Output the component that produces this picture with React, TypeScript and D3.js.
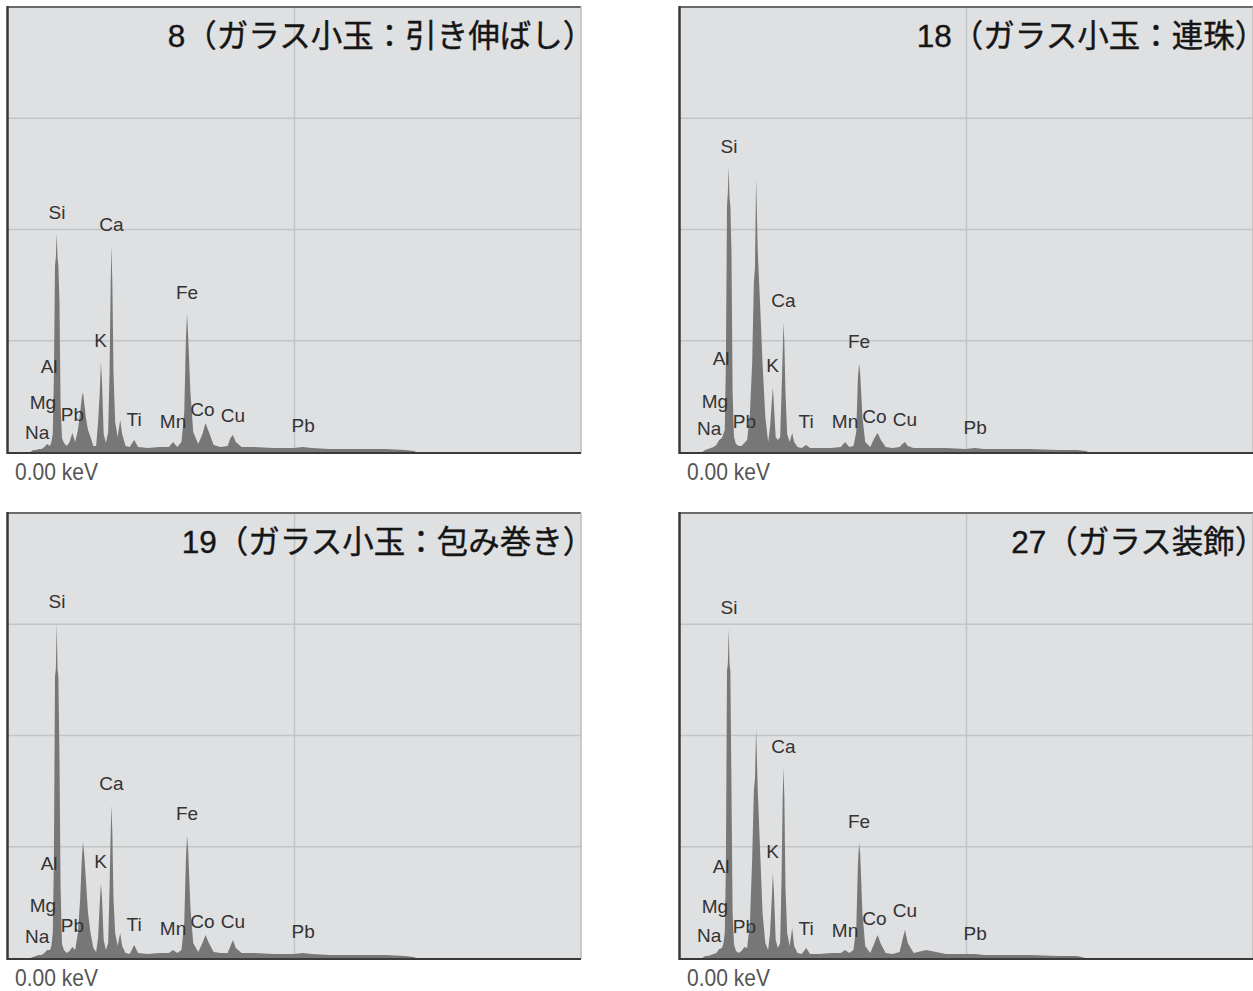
import React from 'react';
import * as d3 from 'd3';

// energy grid (keV) shared by all four spectra
const energies = [
  0, 0.8, 0.9, 1.0, 1.1, 1.2, 1.3, 1.4, 1.5, 1.55, 1.6, 1.64, 1.68, 1.71, 1.74, 1.77, 1.8, 1.84, 1.88, 1.93,
  2.0, 2.1, 2.2, 2.3, 2.4, 2.5, 2.58, 2.64, 2.68, 2.72, 2.78, 2.86, 2.95, 3.05, 3.15, 3.22, 3.28, 3.32, 3.36, 3.42,
  3.5, 3.58, 3.63, 3.67, 3.7, 3.73, 3.77, 3.83, 3.92, 4.01, 4.08, 4.2, 4.35, 4.51, 4.65, 5.0, 5.4, 5.75, 5.9, 6.05,
  6.2, 6.3, 6.36, 6.4, 6.44, 6.52, 6.62, 6.8, 6.95, 7.06, 7.18, 7.35, 7.6, 7.85, 7.95, 8.04, 8.14, 8.35, 8.8, 9.5,
  10.2, 10.55, 10.85, 11.5, 12.5, 13.5, 14.2, 14.5, 14.6, 20.48,
];

// counts per channel
const spec8 = [
  0, 0, 2, 2, 3, 3, 5, 8, 6, 10, 18, 75, 187, 195, 219, 195, 187, 150, 45, 14,
  9, 6, 10, 19, 10, 22, 40, 55, 60, 50, 35, 22, 15, 6, 6, 30, 60, 90, 70, 18,
  9, 20, 80, 169, 207, 169, 80, 30, 15, 32, 18, 6, 5, 12, 5, 4, 5, 5, 10, 5,
  10, 40, 115, 139, 115, 60, 20, 8, 18, 29, 20, 7, 5, 6, 14, 17, 10, 5, 5, 4,
  4, 5, 4, 3, 3, 3, 2, 1, 0, 0,
];
const spec18 = [
  0, 0, 2, 3, 4, 5, 7, 12, 14, 18, 22, 89, 247, 260, 286, 255, 247, 200, 60, 15,
  8, 6, 6, 9, 12, 39, 90, 170, 185, 274, 200, 150, 89, 35, 10, 25, 50, 65, 45, 15,
  12, 15, 60, 99, 130, 110, 60, 18, 10, 19, 10, 5, 4, 7, 4, 4, 4, 5, 10, 5,
  6, 20, 75, 89, 79, 35, 10, 5, 14, 19, 12, 5, 4, 5, 8, 10, 6, 4, 4, 4,
  3, 4, 3, 3, 3, 2, 2, 1, 0, 0,
];
const spec19 = [
  0, 0, 1, 2, 3, 3, 5, 8, 8, 12, 25, 98, 282, 290, 336, 290, 282, 200, 70, 14,
  8, 5, 7, 11, 8, 25, 60, 100, 116, 105, 80, 45, 25, 10, 6, 20, 55, 75, 60, 18,
  8, 15, 70, 125, 153, 125, 60, 25, 12, 25, 12, 5, 4, 13, 5, 4, 5, 5, 8, 5,
  8, 35, 100, 123, 108, 50, 15, 6, 15, 23, 15, 6, 5, 5, 12, 18, 10, 5, 5, 4,
  4, 5, 4, 3, 3, 3, 2, 1, 0, 0,
];
const spec27 = [
  0, 0, 2, 2, 3, 4, 5, 9, 10, 14, 25, 91, 288, 295, 330, 295, 288, 170, 45, 14,
  7, 5, 7, 11, 10, 35, 100, 168, 180, 230, 168, 110, 45, 15, 8, 25, 60, 85, 65, 18,
  10, 15, 80, 161, 191, 161, 70, 25, 12, 30, 12, 5, 4, 10, 4, 4, 5, 5, 8, 5,
  8, 30, 95, 115, 105, 45, 12, 5, 15, 23, 14, 5, 4, 6, 18, 28, 15, 5, 8, 4,
  4, 4, 3, 3, 3, 2, 2, 0, 0, 0,
];

// element labels
const elements = ['Na', 'Mg', 'Al', 'Si', 'Pb', 'K', 'Ca', 'Ti', 'Mn', 'Fe', 'Co', 'Cu', 'Pb'];
const elementKeV = [1.04, 1.25, 1.47, 1.75, 2.3, 3.31, 3.7, 4.51, 5.9, 6.4, 6.95, 8.04, 10.55];
const labels8 = [13, 43, 79, 234, 31, 105, 221, 26, 24, 153, 36, 30, 20];
const labels18 = [17, 44, 87, 300, 24, 80, 145, 24, 24, 104, 29, 26, 18];
const labels19 = [15, 46, 88, 351, 26, 90, 168, 27, 23, 138, 30, 30, 20];
const labels27 = [16, 45, 85, 345, 25, 100, 205, 23, 21, 130, 33, 41, 18];

const titles = [
  '8（ガラス小玉：引き伸ばし',
  '18（ガラス小玉：連珠',
  '19（ガラス小玉：包み巻き',
  '27（ガラス装飾',
];
const closeParen = '）';
const axisStart = '0.00 keV';

const keVMax = 20.48;
const countMax = 446;

const W = 1253;
const H = 991;
const panelW = 573;
const panelH = 446;
const layout = [
  { x: 8, y: 7 },
  { x: 680, y: 7 },
  { x: 8, y: 513 },
  { x: 680, y: 513 },
];
const specs = [spec8, spec18, spec19, spec27];
const labelSets = [labels8, labels18, labels19, labels27];

function Panel({ idx }: { idx: number }) {
  const { x: px, y: py } = layout[idx];
  const values = specs[idx];
  const labelH = labelSets[idx];

  const xScale = d3.scaleLinear().domain([0, keVMax]).range([0, panelW]);
  const yScale = d3.scaleLinear().domain([0, countMax]).range([panelH - 1, 0]);

  const area = d3
    .area<number>()
    .x((_, i) => xScale(energies[i]))
    .y0(yScale(0))
    .y1((d) => yScale(d));

  const hGrid = [0.25, 0.5, 0.75].map((f) => countMax * f);

  return (
    <g transform={`translate(${px},${py})`}>
      <rect x={0} y={0} width={panelW} height={panelH} fill="#dfe0e2" />
      {hGrid.map((v) => (
        <line key={v} x1={0} x2={panelW} y1={yScale(v)} y2={yScale(v)} stroke="#c3c4c6" strokeWidth={1.5} />
      ))}
      <line x1={xScale(keVMax / 2)} x2={xScale(keVMax / 2)} y1={0} y2={panelH} stroke="#c3c4c6" strokeWidth={1.5} />
      <path d={area(values) || ''} fill="#777" />
      {elements.map((el, i) => (
        <text
          key={i}
          x={xScale(elementKeV[i])}
          y={yScale(labelH[i])}
          textAnchor="middle"
          fontFamily="'Liberation Sans', Arial, sans-serif"
          fontSize={19}
          fill="#333"
        >
          {el}
        </text>
      ))}
      <text
        x={panelW - 2.5}
        y={40}
        textAnchor="end"
        fontFamily="'Liberation Sans', 'Noto Sans CJK JP', sans-serif"
        fontSize={31.5}
        fill="#151515"
        stroke="#151515"
        strokeWidth={0.4}
      >
        {titles[idx]}
        <tspan style={{ fontFeatureSettings: '"halt"' }}>{closeParen}</tspan>
      </text>
      {/* frame */}
      <line x1={0} x2={panelW} y1={0} y2={0} stroke="#6a6a6a" strokeWidth={2} />
      <line x1={panelW} x2={panelW} y1={0} y2={panelH} stroke="#bdbdbd" strokeWidth={1.5} />
      <line x1={-0.5} x2={-0.5} y1={-1} y2={panelH + 1} stroke="#3a3a3a" strokeWidth={2.5} />
      <line x1={0} x2={panelW} y1={panelH} y2={panelH} stroke="#3a3a3a" strokeWidth={2} />
      <text
        x={7}
        y={panelH + 27}
        fontFamily="'Liberation Sans', sans-serif"
        fontSize={24.5}
        textLength={83}
        lengthAdjust="spacingAndGlyphs"
        fill="#555"
      >
        {axisStart}
      </text>
    </g>
  );
}

export default function App() {
  return (
    <div style={{ position: 'absolute', left: 0, top: 0 }}>
      <svg width={W} height={H} style={{ display: 'block', background: '#fff' }}>
        {layout.map((_, i) => (
          <Panel key={i} idx={i} />
        ))}
      </svg>
    </div>
  );
}
